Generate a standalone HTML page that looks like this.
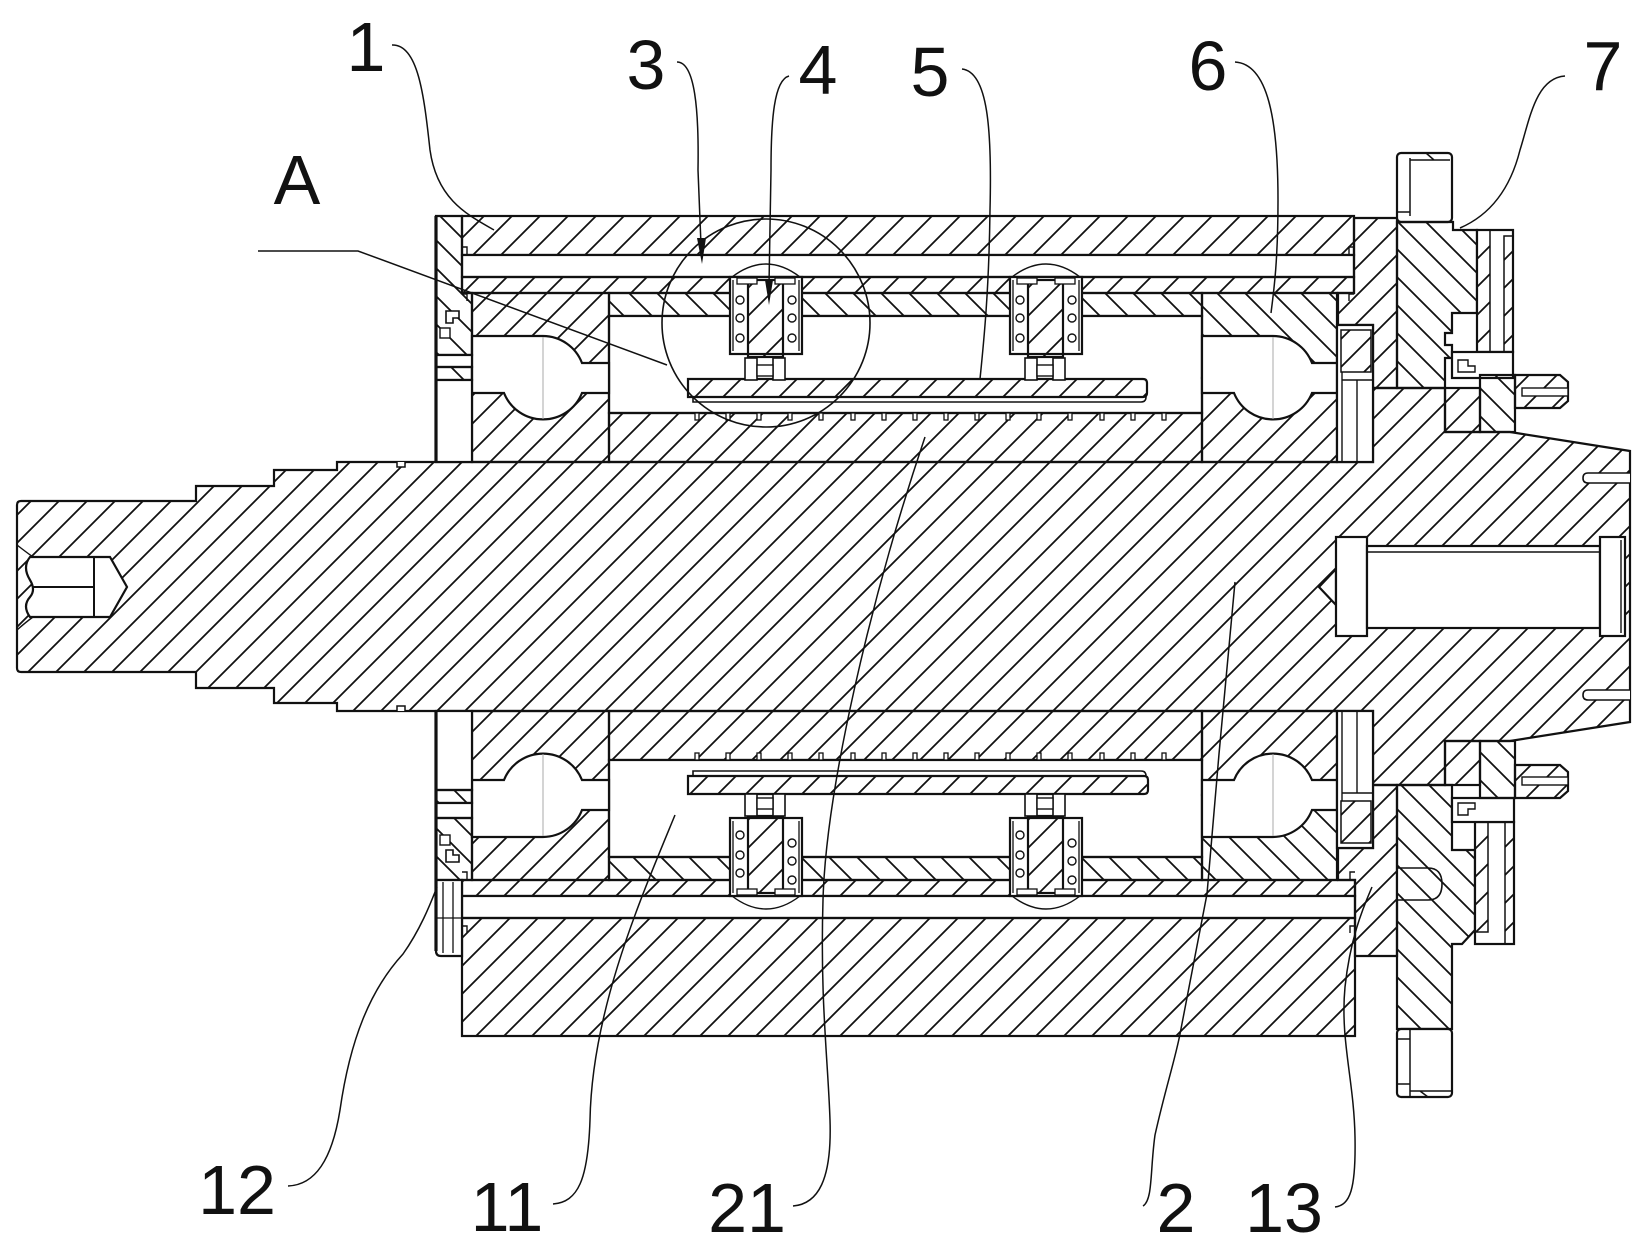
<!DOCTYPE html>
<html>
<head>
<meta charset="utf-8">
<style>
  html,body{margin:0;padding:0;background:#fff;}
  svg{display:block;}
  text{font-family:"Liberation Sans",sans-serif;font-size:70px;fill:#111;}
</style>
</head>
<body>
<svg width="1652" height="1254" viewBox="0 0 1652 1254" xmlns="http://www.w3.org/2000/svg">
<defs>
  <pattern id="hf" patternUnits="userSpaceOnUse" width="28" height="28">
    <path d="M-7,7 L7,-7 M0,28 L28,0 M21,35 L35,21" stroke="#111" stroke-width="1.8" fill="none"/>
  </pattern>
  <pattern id="hb" patternUnits="userSpaceOnUse" width="28" height="28">
    <path d="M-7,21 L7,35 M0,0 L28,28 M21,-7 L35,7" stroke="#111" stroke-width="1.8" fill="none"/>
  </pattern>
</defs>
<rect width="1652" height="1254" fill="#fff"/>

<g stroke="#111" stroke-width="2.2" fill="none" stroke-linejoin="miter">

  <!-- SHAFT -->
  <path fill="url(#hf)" d="M17,505 Q17,501 21,501 L196,501 L196,486 L274,486 L274,470 L337,470 L337,462 L1373,462 L1373,388 L1445,388 L1445,432 L1510,432 L1630,451 L1630,722 L1510,741 L1445,741 L1445,785 L1373,785 L1373,711 L337,711 L337,703 L274,703 L274,688 L196,688 L196,672 L21,672 Q17,672 17,668 Z"/>
  <path fill="#fff" stroke-width="1.5" d="M397,462 L397,467 L405,467 L405,462"/>
  <path fill="#fff" stroke-width="1.5" d="M397,711 L397,706 L405,706 L405,711"/>
  <!-- left bore -->
  <path fill="#fff" d="M30,557 L110,557 L127,587 L110,617 L30,617 Q22,606 30,597 Q36,590 30,580 Q22,567 30,557 Z"/>
  <path d="M33,587 L94,587 M94,557 L94,617" stroke-width="2"/>
  <path d="M17,545 Q26,552 33,557 M17,630 Q26,622 33,617" stroke-width="1.4"/>
  <!-- right bore -->
  <path fill="#fff" d="M1336,569 L1319,587 L1336,605 Z"/>
  <rect x="1336" y="537" width="31" height="99" fill="#fff"/>
  <rect x="1367" y="546" width="233" height="82" fill="#fff"/>
  <path d="M1367,552 L1600,552" stroke-width="1.6"/>
  <rect x="1600" y="537" width="25" height="99" fill="#fff"/>
  <path d="M1621,540 L1621,633" stroke-width="1.4"/>
  <path fill="#fff" stroke-width="1.6" d="M1630,473 L1588,473 Q1583,473 1583,478 Q1583,483 1588,483 L1630,483"/>
  <path fill="#fff" stroke-width="1.6" d="M1630,690 L1588,690 Q1583,690 1583,695 Q1583,700 1588,700 L1630,700"/>

  <!-- HOUSING upper -->
  <rect x="462" y="216" width="892" height="39" fill="url(#hf)"/>
  <rect x="462" y="255" width="892" height="22" fill="#fff"/>
  <rect x="462" y="277" width="892" height="16" fill="url(#hf)"/>
  <!-- HOUSING lower -->
  <rect x="462" y="880" width="893" height="16" fill="url(#hf)"/>
  <rect x="462" y="896" width="893" height="22" fill="#fff"/>
  <rect x="462" y="918" width="893" height="118" fill="url(#hf)"/>
  <path d="M462,247 L467,247 L467,254 M462,294 L467,294 L467,301 M462,926 L467,926 L467,933 M462,872 L467,872 L467,879" stroke-width="1.4"/>
  <path d="M1354,247 L1349,247 L1349,254 M1354,294 L1349,294 L1349,301 M1355,926 L1350,926 L1350,933 M1355,872 L1350,872 L1350,879" stroke-width="1.4"/>

  <!-- SPACERS -->
  <rect x="609" y="293" width="593" height="23" fill="url(#hb)"/>
  <rect x="609" y="316" width="593" height="97" fill="#fff"/>
  <rect x="609" y="413" width="593" height="49" fill="url(#hf)"/>
  <rect x="609" y="711" width="593" height="49" fill="url(#hf)"/>
  <rect x="609" y="760" width="593" height="97" fill="#fff"/>
  <rect x="609" y="857" width="593" height="23" fill="url(#hb)"/>

  <!-- ticks -->
  <g fill="#fff" stroke-width="1.3">
    <rect x="695" y="413" width="4" height="7"/><rect x="726" y="413" width="4" height="7"/><rect x="757" y="413" width="4" height="7"/><rect x="788" y="413" width="4" height="7"/>
    <rect x="819" y="413" width="4" height="7"/><rect x="851" y="413" width="4" height="7"/><rect x="882" y="413" width="4" height="7"/><rect x="913" y="413" width="4" height="7"/>
    <rect x="944" y="413" width="4" height="7"/><rect x="975" y="413" width="4" height="7"/><rect x="1006" y="413" width="4" height="7"/><rect x="1037" y="413" width="4" height="7"/>
    <rect x="1068" y="413" width="4" height="7"/><rect x="1100" y="413" width="4" height="7"/><rect x="1131" y="413" width="4" height="7"/><rect x="1162" y="413" width="4" height="7"/>
    <rect x="695" y="753" width="4" height="7"/><rect x="726" y="753" width="4" height="7"/><rect x="757" y="753" width="4" height="7"/><rect x="788" y="753" width="4" height="7"/>
    <rect x="819" y="753" width="4" height="7"/><rect x="851" y="753" width="4" height="7"/><rect x="882" y="753" width="4" height="7"/><rect x="913" y="753" width="4" height="7"/>
    <rect x="944" y="753" width="4" height="7"/><rect x="975" y="753" width="4" height="7"/><rect x="1006" y="753" width="4" height="7"/><rect x="1037" y="753" width="4" height="7"/>
    <rect x="1068" y="753" width="4" height="7"/><rect x="1100" y="753" width="4" height="7"/><rect x="1131" y="753" width="4" height="7"/><rect x="1162" y="753" width="4" height="7"/>
  </g>

  <!-- PLATES (5) -->
  <path fill="url(#hf)" d="M688,379 L1143,379 Q1147,379 1147,383 L1147,393 Q1147,397 1143,397 L688,397 Z"/>
  <path d="M693,397 L693,402 L1141,402 Q1146,402 1146,397" stroke-width="1.6"/>
  <path fill="url(#hf)" d="M688,776 L1144,776 Q1148,776 1148,780 L1148,790 Q1148,794 1144,794 L688,794 Z"/>
  <path d="M693,776 L693,771 L1141,771 Q1146,771 1146,776" stroke-width="1.6"/>

  <!-- BEARINGS -->
  <rect x="472" y="293" width="137" height="169" fill="url(#hf)"/>
  <rect x="472" y="711" width="137" height="169" fill="url(#hf)"/>
  <rect x="1202" y="293" width="135" height="85" fill="url(#hb)"/>
  <rect x="1202" y="378" width="135" height="84" fill="url(#hf)"/>
  <rect x="1202" y="711" width="135" height="84" fill="url(#hf)"/>
  <rect x="1202" y="795" width="135" height="85" fill="url(#hb)"/>
  <path fill="#fff" d="M472,336 L543,336 A42,42 0 0 1 582,363 L609,363 L609,393 L582,393 A42,42 0 0 1 504,393 L472,393 Z"/>
  <path fill="#fff" d="M1202,336 L1273,336 A42,42 0 0 1 1312,363 L1337,363 L1337,393 L1312,393 A42,42 0 0 1 1234,393 L1202,393 Z"/>
  <path fill="#fff" d="M472,837 L543,837 A42,42 0 0 0 582,810 L609,810 L609,780 L582,780 A42,42 0 0 0 504,780 L472,780 Z"/>
  <path fill="#fff" d="M1202,837 L1273,837 A42,42 0 0 0 1312,810 L1337,810 L1337,780 L1312,780 A42,42 0 0 0 1234,780 L1202,780 Z"/>
  <path d="M543,337 L543,419 M1273,337 L1273,419 M543,754 L543,836 M1273,754 L1273,836" stroke="#aaa" stroke-width="1"/>

  <!-- SPRINGS upper -->
  <g>
    <rect x="730" y="277" width="72" height="77" fill="#fff"/>
    <path d="M733,280 L733,351 M799,280 L799,351" stroke-width="1.3"/>
    <rect x="748" y="280" width="35" height="77" fill="url(#hf)"/>
    <rect x="737" y="278" width="20" height="6" fill="#fff" stroke-width="1.3"/>
    <rect x="775" y="278" width="20" height="6" fill="#fff" stroke-width="1.3"/>
    <g fill="#fff" stroke-width="1.4"><circle cx="740" cy="300" r="4"/><circle cx="740" cy="318" r="4"/><circle cx="740" cy="338" r="4"/><circle cx="792" cy="300" r="4"/><circle cx="792" cy="318" r="4"/><circle cx="792" cy="338" r="4"/></g>
    <rect x="745" y="358" width="12" height="22" fill="#fff" stroke-width="1.6"/>
    <rect x="773" y="358" width="12" height="22" fill="#fff" stroke-width="1.6"/>
    <rect x="757" y="365" width="16" height="11" fill="#fff" stroke-width="1.4"/>
    <path d="M732,277 Q766,251 800,277" stroke-width="1.4"/>
  </g>
  <g>
    <rect x="1010" y="277" width="72" height="77" fill="#fff"/>
    <path d="M1013,280 L1013,351 M1079,280 L1079,351" stroke-width="1.3"/>
    <rect x="1028" y="280" width="35" height="77" fill="url(#hf)"/>
    <rect x="1017" y="278" width="20" height="6" fill="#fff" stroke-width="1.3"/>
    <rect x="1055" y="278" width="20" height="6" fill="#fff" stroke-width="1.3"/>
    <g fill="#fff" stroke-width="1.4"><circle cx="1020" cy="300" r="4"/><circle cx="1020" cy="318" r="4"/><circle cx="1020" cy="338" r="4"/><circle cx="1072" cy="300" r="4"/><circle cx="1072" cy="318" r="4"/><circle cx="1072" cy="338" r="4"/></g>
    <rect x="1025" y="358" width="12" height="22" fill="#fff" stroke-width="1.6"/>
    <rect x="1053" y="358" width="12" height="22" fill="#fff" stroke-width="1.6"/>
    <rect x="1037" y="365" width="16" height="11" fill="#fff" stroke-width="1.4"/>
    <path d="M1012,277 Q1046,251 1080,277" stroke-width="1.4"/>
  </g>
  <!-- SPRINGS lower -->
  <g>
    <rect x="730" y="818" width="72" height="78" fill="#fff"/>
    <path d="M733,821 L733,893 M799,821 L799,893" stroke-width="1.3"/>
    <rect x="748" y="816" width="35" height="77" fill="url(#hf)"/>
    <rect x="737" y="889" width="20" height="6" fill="#fff" stroke-width="1.3"/>
    <rect x="775" y="889" width="20" height="6" fill="#fff" stroke-width="1.3"/>
    <g fill="#fff" stroke-width="1.4"><circle cx="740" cy="835" r="4"/><circle cx="740" cy="855" r="4"/><circle cx="740" cy="873" r="4"/><circle cx="792" cy="843" r="4"/><circle cx="792" cy="861" r="4"/><circle cx="792" cy="880" r="4"/></g>
    <rect x="745" y="794" width="12" height="22" fill="#fff" stroke-width="1.6"/>
    <rect x="773" y="794" width="12" height="22" fill="#fff" stroke-width="1.6"/>
    <rect x="757" y="798" width="16" height="11" fill="#fff" stroke-width="1.4"/>
    <path d="M732,896 Q766,922 800,896" stroke-width="1.4"/>
  </g>
  <g>
    <rect x="1010" y="818" width="72" height="78" fill="#fff"/>
    <path d="M1013,821 L1013,893 M1079,821 L1079,893" stroke-width="1.3"/>
    <rect x="1028" y="816" width="35" height="77" fill="url(#hf)"/>
    <rect x="1017" y="889" width="20" height="6" fill="#fff" stroke-width="1.3"/>
    <rect x="1055" y="889" width="20" height="6" fill="#fff" stroke-width="1.3"/>
    <g fill="#fff" stroke-width="1.4"><circle cx="1020" cy="835" r="4"/><circle cx="1020" cy="855" r="4"/><circle cx="1020" cy="873" r="4"/><circle cx="1072" cy="843" r="4"/><circle cx="1072" cy="861" r="4"/><circle cx="1072" cy="880" r="4"/></g>
    <rect x="1025" y="794" width="12" height="22" fill="#fff" stroke-width="1.6"/>
    <rect x="1053" y="794" width="12" height="22" fill="#fff" stroke-width="1.6"/>
    <rect x="1037" y="798" width="16" height="11" fill="#fff" stroke-width="1.4"/>
    <path d="M1012,896 Q1046,922 1080,896" stroke-width="1.4"/>
  </g>

  <!-- LEFT CAP upper -->
  <path fill="url(#hb)" d="M436,216 L462,216 L462,293 L472,293 L472,355 L436,355 Z"/>
  <rect x="436" y="355" width="36" height="12" fill="#fff"/>
  <rect x="436" y="367" width="36" height="13" fill="url(#hb)"/>
  <rect x="436" y="380" width="36" height="82" fill="#fff"/>
  <path fill="#fff" stroke-width="1.6" d="M446,323 L446,311 L459,311 L459,318 L453,318 L453,323 Z"/>
  <rect x="440" y="328" width="10" height="10" fill="#fff" stroke-width="1.4"/>
  <path d="M436,216 L436,462" stroke-width="3.2"/>
  <!-- LEFT CAP lower -->
  <rect x="436" y="711" width="36" height="79" fill="#fff"/>
  <rect x="436" y="790" width="36" height="13" fill="url(#hb)"/>
  <rect x="436" y="803" width="36" height="15" fill="#fff"/>
  <rect x="436" y="818" width="36" height="62" fill="url(#hb)"/>
  <path fill="#fff" stroke-width="1.6" d="M446,850 L446,862 L459,862 L459,855 L453,855 L453,850 Z"/>
  <rect x="440" y="835" width="10" height="10" fill="#fff" stroke-width="1.4"/>
  <path fill="#fff" d="M436,880 L462,880 L462,956 L441,956 Q436,956 436,951 Z"/>
  <path d="M443,882 L443,953 M453,882 L453,953 M436,918 L462,918" stroke-width="1.3"/>
  <path d="M436,711 L436,951" stroke-width="3.2"/>

  <!-- RIGHT END COVER (13) -->
  <path fill="url(#hf)" d="M1354,218 L1397,218 L1397,388 L1373,388 L1373,325 L1338,325 L1338,293 L1354,293 Z"/>
  <rect x="1337" y="325" width="36" height="137" fill="#fff"/>
  <rect x="1341" y="330" width="30" height="42" fill="url(#hf)" stroke-width="1.5"/>
  <path d="M1342,372 L1342,462 M1357,380 L1357,462 M1342,380 L1373,380" stroke-width="1.4"/>
  <path fill="url(#hf)" d="M1338,848 L1373,848 L1373,785 L1397,785 L1397,956 L1355,956 L1355,880 L1338,880 Z"/>
  <rect x="1337" y="711" width="36" height="137" fill="#fff"/>
  <rect x="1341" y="801" width="30" height="42" fill="url(#hf)" stroke-width="1.5"/>
  <path d="M1342,711 L1342,801 M1357,711 L1357,793 M1342,793 L1373,793" stroke-width="1.4"/>
  <path fill="#fff" stroke-width="1.6" d="M1397,868 L1428,868 Q1442,868 1442,884 Q1442,900 1428,900 L1397,900"/>

  <!-- FLANGE (7) upper -->
  <rect x="1397" y="153" width="55" height="69" rx="4" fill="#fff"/>
  <path d="M1410,158 L1410,216 M1410,160 L1450,160 M1397,212 L1410,212 M1426,153 L1434,160" stroke-width="1.5"/>
  <path fill="url(#hb)" d="M1397,222 L1453,222 L1453,230 L1477,230 L1477,313 L1452,313 L1452,333 L1445,333 L1445,345 L1452,345 L1452,358 L1445,358 L1445,388 L1397,388 Z"/>
  <rect x="1477" y="230" width="36" height="122" fill="#fff"/>
  <rect x="1477" y="230" width="13" height="122" fill="url(#hf)" stroke-width="1.5"/>
  <rect x="1504" y="236" width="9" height="116" fill="url(#hf)" stroke-width="1.5"/>
  <rect x="1452" y="352" width="61" height="26" fill="#fff"/>
  <path fill="#fff" stroke-width="1.4" d="M1458,372 L1458,360 L1468,360 L1468,366 L1475,366 L1475,372 Z"/>
  <rect x="1445" y="388" width="35" height="44" fill="url(#hf)"/>
  <rect x="1480" y="375" width="35" height="57" fill="url(#hb)"/>
  <path fill="url(#hf)" d="M1515,375 L1560,375 L1568,382 L1568,401 L1560,408 L1515,408 Z"/>
  <rect x="1522" y="388" width="46" height="8" fill="#fff" stroke-width="1.4"/>

  <!-- FLANGE (7) lower -->
  <path fill="url(#hb)" d="M1397,785 L1452,785 L1452,850 L1475,850 L1475,930 L1462,944 L1452,944 L1452,1029 L1397,1029 Z"/>
  <rect x="1397" y="1029" width="55" height="68" rx="4" fill="#fff"/>
  <path d="M1410,1029 L1410,1097 M1397,1039 L1410,1039 M1397,1084 L1410,1084 M1410,1091 L1452,1091 M1420,1091 L1428,1097" stroke-width="1.5"/>
  <rect x="1475" y="822" width="39" height="122" fill="#fff"/>
  <rect x="1475" y="822" width="13" height="110" fill="url(#hf)" stroke-width="1.5"/>
  <rect x="1505" y="822" width="9" height="122" fill="url(#hf)" stroke-width="1.5"/>
  <rect x="1452" y="798" width="62" height="24" fill="#fff"/>
  <path fill="#fff" stroke-width="1.4" d="M1458,803 L1458,815 L1468,815 L1468,809 L1475,809 L1475,803 Z"/>
  <rect x="1445" y="741" width="35" height="44" fill="url(#hf)"/>
  <rect x="1480" y="741" width="35" height="57" fill="url(#hb)"/>
  <path fill="url(#hf)" d="M1515,765 L1560,765 L1568,772 L1568,791 L1560,798 L1515,798 Z"/>
  <rect x="1522" y="777" width="46" height="8" fill="#fff" stroke-width="1.4"/>
</g>

<!-- detail circle A -->
<circle cx="766" cy="323" r="104" fill="none" stroke="#111" stroke-width="1.6"/>

<!-- LEADERS -->
<g stroke="#111" stroke-width="1.5" fill="none">
  <path d="M258,251 L358,251 L667,365"/>
  <path d="M392,45 C418,44 424,95 430,150 C437,200 468,215 494,230"/>
  <path d="M677,62 C695,62 699,110 698,170 L701,245"/>
  <path d="M789,76 C774,80 771,120 771,170 L769,285"/>
  <path d="M962,69 C988,72 992,130 990,210 C989,290 984,340 980,379"/>
  <path d="M1235,62 C1268,64 1278,120 1278,200 C1278,260 1274,290 1271,313"/>
  <path d="M1565,76 C1536,78 1530,118 1520,150 C1510,190 1490,215 1460,228"/>
  <path d="M288,1186 C315,1185 332,1160 340,1110 C350,1040 370,990 403,954 C420,930 430,905 437,887"/>
  <path d="M553,1204 C578,1202 588,1180 590,1120 C592,1010 640,900 675,815"/>
  <path d="M793,1206 C818,1204 832,1180 830,1120 C828,1060 820,1000 823,900 C826,790 870,600 925,437"/>
  <path d="M1143,1206 C1153,1200 1150,1170 1155,1135 C1165,1090 1175,1060 1180,1034 L1207,894 L1219,754 L1235,582"/>
  <path d="M1335,1207 C1350,1205 1356,1190 1355,1137 C1354,1080 1340,1040 1345,987 C1350,940 1362,910 1372,887"/>
</g>
<polygon points="697,238 706,238 702,264" fill="#111"/>
<polygon points="765,280 773,280 769,305" fill="#111"/>

<!-- LABELS -->
<text x="366" y="71" text-anchor="middle">1</text>
<text x="646" y="89" text-anchor="middle">3</text>
<text x="818" y="94" text-anchor="middle">4</text>
<text x="930" y="96" text-anchor="middle">5</text>
<text x="1208" y="90" text-anchor="middle">6</text>
<text x="1603" y="90" text-anchor="middle">7</text>
<text x="297" y="204" text-anchor="middle">A</text>
<text x="237" y="1214" text-anchor="middle">12</text>
<text x="507" y="1231" text-anchor="middle">11</text>
<text x="747" y="1232" text-anchor="middle">21</text>
<text x="1176" y="1232" text-anchor="middle">2</text>
<text x="1284" y="1232" text-anchor="middle">13</text>
</svg>
</body>
</html>
